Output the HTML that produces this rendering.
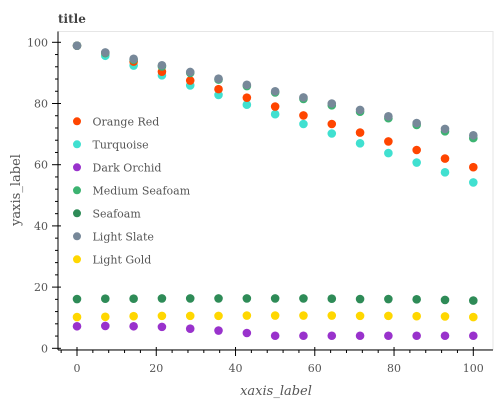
<!DOCTYPE html>
<html><head><meta charset="utf-8"><style>
body{margin:0;background:#fff;}
svg{display:block;font-family:"DejaVu Serif","Liberation Serif",serif;}
</style></head><body>
<svg id="chart" width="498" height="400">
<text x="58" y="23" font-size="12" font-weight="bold" fill="#444">title</text>
<rect x="58" y="31.5" width="435" height="318" fill="none" stroke="#e6e6e6"/>
<g id="axes"></g>
<g id="marks"></g>
<g id="legend"></g>
<text x="276" y="395" font-size="13" font-style="italic" fill="#555" text-anchor="middle">xaxis_label</text>
<text transform="translate(20,190) rotate(-90)" font-size="13" fill="#555" text-anchor="middle">yaxis_label</text>
</svg>
<script>
const xValues=[0,7.14,14.29,21.43,28.57,35.71,42.86,50,57.14,64.29,71.43,78.57,85.71,92.86,100];
const seriesNames=["Orange Red","Turquoise","Dark Orchid","Medium Seafoam","Seafoam","Light Slate","Light Gold"];
const seriesColors=["#ff4500","#40e0d0","#9932cc","#3cb371","#2e8b57","#778899","#ffd700"];
const orangeRed=[98.9,96.5,93.7,90.4,87.5,84.7,81.9,79.0,76.1,73.3,70.5,67.6,64.8,62.0,59.2];
const turquoise=[98.9,95.6,92.4,89.2,85.9,82.8,79.6,76.5,73.3,70.2,67.0,63.8,60.7,57.5,54.2];
const darkOrchid=[7.2,7.3,7.2,7.0,6.4,5.8,5.0,4.1,4.1,4.1,4.1,4.1,4.1,4.1,4.1];
const mediumSeafoam=[98.9,96.5,94.3,92.1,90.0,87.8,85.7,83.6,81.5,79.4,77.3,75.2,73.0,70.9,68.7];
const seafoam=[16.1,16.2,16.2,16.3,16.3,16.3,16.3,16.3,16.3,16.2,16.1,16.1,16.0,15.8,15.6];
const lightSlate=[98.9,96.7,94.6,92.5,90.3,88.1,86.1,84.0,82.0,80.0,77.9,75.8,73.6,71.7,69.6];
const lightGold=[10.2,10.3,10.5,10.6,10.6,10.6,10.7,10.7,10.7,10.7,10.6,10.6,10.5,10.4,10.2];
const xTicks=[0,20,40,60,80,100];
const yTicks=[0,20,40,60,80,100];
const seriesData=[orangeRed,turquoise,darkOrchid,mediumSeafoam,seafoam,lightSlate,lightGold];
const drawOrder=[1,0,2,3,4,5,6];
const NS="http://www.w3.org/2000/svg";
function xs(v){return 77+v*3.963;}
function ys(v){return 348.3-v*3.06;}
function mk(tag,attrs,parent){const e=document.createElementNS(NS,tag);for(const k in attrs)e.setAttribute(k,attrs[k]);parent.appendChild(e);return e;}
const axes=document.getElementById('axes');
let yl=mk('line',{x1:58,y1:31.5,x2:58,y2:350,stroke:'#000'},axes);


let xl=mk('line',{x1:58,y1:350,x2:493,y2:350,stroke:'#000'},axes);


for(let v=0;v<=100;v+=4){const y=ys(v);const major=v%20===0;
 mk('line',{x1:major?52:55,y1:y,x2:major?61:58,y2:y,stroke:'#000'},axes);}
for(let v=-4;v<=102;v+=4){const x=xs(v);const major=v%20===0;
 if(x<58||x>493)continue;
 mk('line',{x1:x,y1:major?347:350,x2:x,y2:major?356:353,stroke:'#000'},axes);}
yTicks.forEach(v=>{const t=mk('text',{x:48,y:ys(v)+4,'font-size':11,fill:'#555','text-anchor':'end'},axes);t.textContent=v;
 
 });
xTicks.forEach(v=>{const t=mk('text',{x:xs(v),y:372,'font-size':11,fill:'#555','text-anchor':'middle'},axes);t.textContent=v;
 
 });
const marks=document.getElementById('marks');
drawOrder.forEach(si=>{seriesData[si].forEach((v,i)=>{const c=mk('circle',{cx:xs(xValues[i]),cy:ys(v),r:4.3,fill:seriesColors[si]},marks);
 
 });});
const lg=document.getElementById('legend');
seriesNames.forEach((n,i)=>{const y=121.3+i*23;
 const c=mk('circle',{cx:77,cy:y,r:4,fill:seriesColors[i]},lg);
 
 
 const t=mk('text',{x:92.5,y:y+4,'font-size':11,fill:'#555'},lg);t.textContent=n;
 
 });
</script>
</body></html>
